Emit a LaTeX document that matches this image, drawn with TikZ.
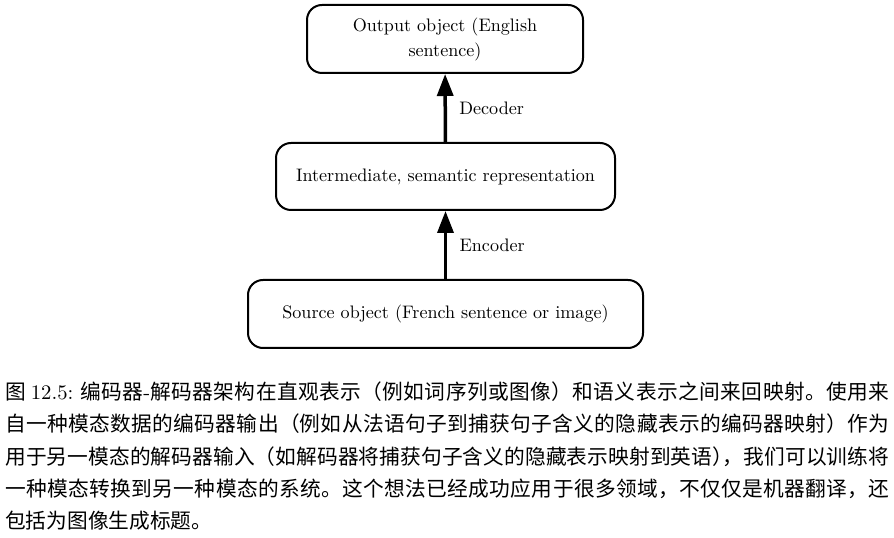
\documentclass[tikz,border=0pt]{standalone}
\usepackage{fontspec}
\setmainfont{lmroman10-regular.otf}[BoldFont=lmroman10-bold.otf, ItalicFont=lmroman10-italic.otf]
\newfontfamily\cjkfont{Noto Sans CJK SC}
\XeTeXlinebreaklocale "zh"
\XeTeXlinebreakskip=0pt plus 3pt
\usepackage{tikz}
\usetikzlibrary{arrows.meta,positioning}

\begin{document}
\begin{tikzpicture}[x=1pt, y=1pt, arrow/.style = {line width=3.5pt,-{Triangle[length=22pt,width=16pt]}}, font=\fontsize{18.1}{25}\selectfont]
		\tikzset{stage/.style={draw=black,line width=2pt,rounded corners=15pt,inner sep=0pt,align=center}}
		\useasboundingbox (0,0) rectangle (894,538);

		\node[stage, minimum width=276pt, minimum height=68pt] (outobj) at (445,499) {Output object (English\\sentence)};
		\node[stage, minimum width=339pt, minimum height=67pt] (midrep) at (445.5,361.5) {Intermediate, semantic representation};
		\node[stage, minimum width=395pt, minimum height=68pt] (srcobj) at (445.5,224) {Source object (French sentence or image)};

		\draw [arrow] (srcobj) -- (midrep) node[midway, right=9pt] (enc) {Encoder};
		\draw [arrow] (midrep) -- (outobj) node[midway, right=9pt] (dec) {Decoder};

	\node[anchor=north west, inner sep=0pt, text width=884pt, align=justify, font=\cjkfont\fontsize{20.7}{32.3}\selectfont] (caption) at (5,156.5) {图 {\rmfamily 12.5:} 编码器{\rmfamily -}解码器架构在直观表示（例如词序列或图像）和语义表示之间来回映射。使用来\linebreak
自一种模态数据的编码器输出（例如从法语句子到捕获句子含义的隐藏表示的编码器映射）作为\linebreak
用于另一模态的解码器输入（如解码器将捕获句子含义的隐藏表示映射到英语\makebox[0.5em][l]{）}，我们可以训练将\linebreak
一种模态转换到另一种模态的系统。这个想法已经成功应用于很多领域，不仅仅是机器翻译，还\linebreak
包括为图像生成标题。};

	\end{tikzpicture}
\end{document}
